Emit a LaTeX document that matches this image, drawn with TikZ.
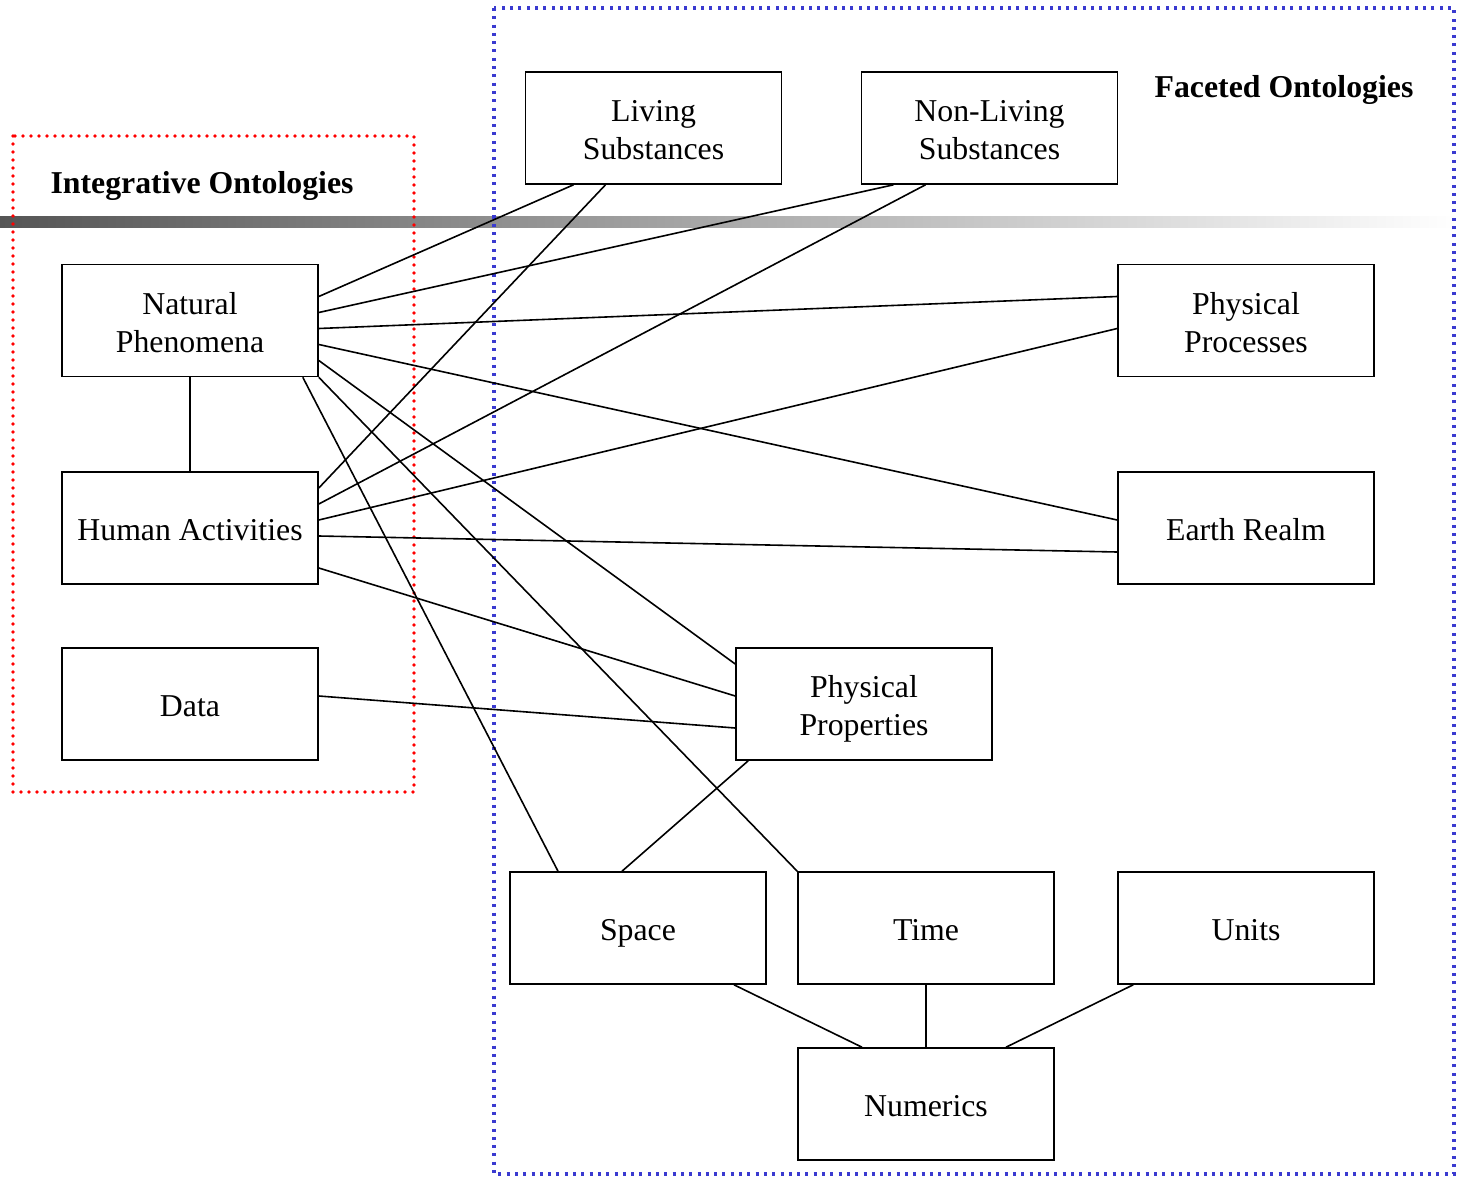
\documentclass[tikz,border=0pt]{standalone}
\usepackage{fontspec}
\setmainfont{Liberation Serif}
\usepackage{xcolor}

\begin{document}
\begin{tikzpicture}[x=1pt,y=-1pt,
  ontobox/.style={draw,line width=1.6pt,minimum width=256pt,minimum height=112pt,inner sep=0pt,align=center,font=\fontsize{31.8}{38}\selectfont,text height=27pt,text depth=2pt},
  twoline/.style={text height=65pt},
  headline/.style={font=\fontsize{31.8}{38}\selectfont\bfseries},
  link/.style={line width=1.6pt}]
\definecolor{barleft}{HTML}{555555}
\definecolor{barmid}{HTML}{B8B8B8}
\definecolor{facetblue}{HTML}{3A3AD0}
\useasboundingbox (0,0) rectangle (1458,1177);
% grey bar under the titles
\shade[left color=barleft,middle color=barmid,right color=white] (0,216) rectangle (1458,227);
% the two groups
\draw[red,line width=3.6pt,line cap=round,dash pattern=on 0pt off 8pt] (13,136) rectangle (414,792);
\draw[facetblue,line width=3.2pt,dash pattern=on 3pt off 5.3pt] (494,8) rectangle (1454,1174);
\node[headline] (integ) at (202,186) {Integrative Ontologies};
\node[headline] (facet) at (1284,90) {Faceted Ontologies};
% integrative
\node[ontobox,twoline] (nat) at (190,320.5) {Natural\\Phenomena};
\node[ontobox] (hum) at (190,528) {Human Activities};
\node[ontobox] (data) at (190,704) {Data};
% faceted
\node[ontobox,twoline] (liv) at (653.5,128) {Living\\Substances};
\node[ontobox,twoline] (nonliv) at (989.5,128) {Non-Living\\Substances};
\node[ontobox,twoline] (proc) at (1246,320.5) {Physical\\Processes};
\node[ontobox] (earth) at (1246,528) {Earth Realm};
\node[ontobox,twoline] (prop) at (864,704) {Physical\\Properties};
\node[ontobox] (space) at (638,928) {Space};
\node[ontobox] (time) at (926,928) {Time};
\node[ontobox] (units) at (1246,928) {Units};
\node[ontobox] (num) at (926,1104) {Numerics};
% links
\draw[link] ([xshift=-80pt]liv.south) -- ([yshift=24pt]nat.east);
\draw[link] ([xshift=-48pt]liv.south) -- ([yshift=40pt]hum.east);
\draw[link] ([xshift=-96pt]nonliv.south) -- ([yshift=8pt]nat.east);
\draw[link] ([xshift=-64pt]nonliv.south) -- ([yshift=24pt]hum.east);
\draw[link] ([yshift=-8pt]nat.east) -- ([yshift=24pt]proc.west);
\draw[link] ([yshift=8pt]hum.east) -- ([yshift=-8pt]proc.west);
\draw[link] ([yshift=-24pt]nat.east) -- ([yshift=8pt]earth.west);
\draw[link] ([yshift=-8pt]hum.east) -- ([yshift=-24pt]earth.west);
\draw[link] ([yshift=-40pt]nat.east) -- ([yshift=40pt]prop.west);
\draw[link] ([yshift=-40pt]hum.east) -- ([yshift=8pt]prop.west);
\draw[link] ([yshift=8pt]data.east) -- ([yshift=-24pt]prop.west);
\draw[link] ([xshift=-16pt]nat.south east) -- ([xshift=-80pt]space.north);
\draw[link] (nat.south east) -- (time.north west);
\draw[link] ([xshift=13pt]prop.south west) -- ([xshift=-16pt]space.north);
\draw[link] (nat) -- (hum);
\draw[link] ([xshift=96pt]space.south) -- ([xshift=-64pt]num.north);
\draw[link] (time) -- (num);
\draw[link] ([xshift=16pt]units.south west) -- ([xshift=80pt]num.north);
\end{tikzpicture}
\end{document}
